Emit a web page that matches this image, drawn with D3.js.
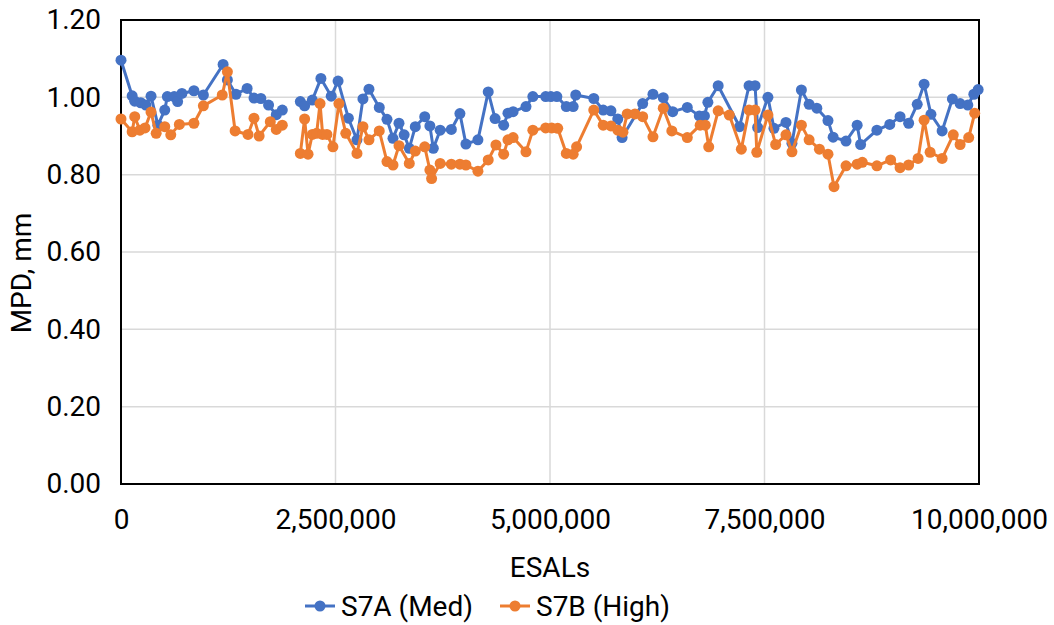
<!DOCTYPE html>
<html><head><meta charset="utf-8">
<script src="https://cdn.jsdelivr.net/npm/d3@7"></script>
<style>
html,body{margin:0;padding:0;background:#fff;}
svg{display:block;font-family:Roboto, "Open Sans", sans-serif;}
</style></head>
<body><svg id="chart" width="1054" height="625"></svg>
<script>
// ---- data (null marks the gap in measurements) ----
const seriesNames = ["S7A (Med)", "S7B (High)"];
const seriesColors = ["#4472C4", "#ED7D31"];
const yTickValues = [0, 0.2, 0.4, 0.6, 0.8, 1.0, 1.2];
const xTickValues = [0, 2500000, 5000000, 7500000, 10000000];

const esalsA = [0,130000,160000,230000,290000,350000,430000,510000,540000,620000,660000,710000,850000,960000,1190000,1240000,1340000,1470000,1550000,1630000,1720000,1810000,1880000,
2000000,
2090000,2140000,2230000,2330000,2450000,2530000,2650000,2750000,2820000,2890000,3010000,3100000,3170000,3240000,3300000,3360000,3430000,3540000,3600000,3640000,3720000,3850000,3950000,4020000,4160000,4280000,4360000,4460000,4510000,4570000,4720000,4800000,4950000,5010000,5080000,5190000,5270000,5300000,5510000,5620000,5710000,5790000,5840000,6080000,6200000,6320000,6430000,6600000,6740000,6800000,6840000,6960000,7210000,7320000,7390000,7420000,7540000,7610000,7750000,7820000,7930000,8020000,8110000,8240000,8300000,8450000,8580000,8620000,8810000,8960000,9080000,9180000,9280000,9360000,9440000,9570000,9690000,9780000,9870000,9940000,9990000];
const mpdA = [1.096,1.004,0.990,0.986,0.980,1.003,0.928,0.967,1.002,1.002,0.989,1.010,1.017,1.006,1.085,1.045,1.008,1.023,0.998,0.997,0.980,0.955,0.967,
null,
0.989,0.978,0.993,1.049,1.003,1.042,0.946,0.890,0.996,1.021,0.974,0.943,0.894,0.933,0.903,0.868,0.924,0.950,0.926,0.868,0.915,0.917,0.958,0.879,0.890,1.014,0.945,0.928,0.959,0.963,0.976,1.002,1.002,1.002,1.002,0.976,0.976,1.006,0.997,0.967,0.965,0.944,0.896,0.984,1.008,0.999,0.963,0.974,0.952,0.952,0.987,1.030,0.924,1.030,1.030,0.922,1.000,0.920,0.935,0.881,1.019,0.982,0.972,0.940,0.897,0.887,0.928,0.878,0.915,0.930,0.950,0.933,0.982,1.034,0.956,0.913,0.996,0.984,0.980,1.008,1.020];

const esalsB = [0,130000,160000,220000,280000,350000,410000,510000,580000,680000,850000,960000,1180000,1240000,1330000,1480000,1550000,1610000,1740000,1810000,1880000,
2000000,
2090000,2140000,2180000,2230000,2280000,2320000,2350000,2400000,2470000,2540000,2620000,2750000,2820000,2890000,3010000,3100000,3170000,3240000,3360000,3430000,3540000,3600000,3620000,3720000,3850000,3950000,4020000,4160000,4280000,4370000,4460000,4510000,4570000,4720000,4800000,4950000,5020000,5090000,5190000,5270000,5310000,5510000,5620000,5710000,5790000,5850000,5900000,5990000,6080000,6200000,6320000,6420000,6600000,6750000,6810000,6850000,6960000,7090000,7230000,7320000,7390000,7410000,7540000,7630000,7750000,7820000,7930000,8020000,8140000,8240000,8310000,8450000,8580000,8640000,8810000,8970000,9080000,9180000,9290000,9360000,9430000,9570000,9700000,9780000,9880000,9950000];
const mpdB = [0.944,0.911,0.950,0.915,0.921,0.962,0.907,0.924,0.903,0.930,0.933,0.978,1.006,1.066,0.913,0.904,0.946,0.900,0.937,0.917,0.928,
null,
0.855,0.944,0.853,0.904,0.907,0.984,0.904,0.904,0.872,0.984,0.907,0.855,0.924,0.890,0.913,0.834,0.825,0.875,0.829,0.861,0.872,0.812,0.790,0.829,0.827,0.827,0.825,0.809,0.838,0.877,0.853,0.890,0.896,0.859,0.915,0.921,0.921,0.920,0.855,0.853,0.872,0.967,0.928,0.926,0.915,0.910,0.957,0.957,0.950,0.898,0.972,0.913,0.896,0.928,0.928,0.872,0.965,0.954,0.866,0.967,0.967,0.858,0.954,0.878,0.903,0.859,0.928,0.890,0.866,0.853,0.769,0.823,0.827,0.832,0.823,0.838,0.818,0.825,0.842,0.941,0.858,0.842,0.903,0.878,0.896,0.959];

const series = [
  {name: seriesNames[0], color: seriesColors[0], data: esalsA.map((x,i)=>({x, y: mpdA[i]}))},
  {name: seriesNames[1], color: seriesColors[1], data: esalsB.map((x,i)=>({x, y: mpdB[i]}))}
];

// ---- layout ----
const svg = d3.select("#chart");
const L = 121, R = 979, T = 20, B = 484;
const FS = 28;

const x = d3.scaleLinear().domain([0, 10000000]).range([L, R]);
const y = d3.scaleLinear().domain([0, 1.2]).range([B, T]);

// gridlines
svg.append("g").selectAll("line").data(yTickValues.filter(v=>v>0&&v<1.2)).join("line")
  .attr("x1", L).attr("x2", R).attr("y1", d=>y(d)).attr("y2", d=>y(d))
  .attr("stroke", "#d9d9d9").attr("stroke-width", 1.5);
svg.append("g").selectAll("line").data(xTickValues.filter(v=>v>0&&v<10000000)).join("line")
  .attr("y1", T).attr("y2", B).attr("x1", d=>x(d)).attr("x2", d=>x(d))
  .attr("stroke", "#d9d9d9").attr("stroke-width", 1.5);

// axes (labels only)
const yAxis = d3.axisLeft(y).tickValues(yTickValues).tickFormat(d3.format(".2f")).tickSize(0).tickPadding(20);
const gy = svg.append("g").attr("transform", `translate(${L},0)`).call(yAxis);
const xAxis = d3.axisBottom(x).tickValues(xTickValues).tickFormat(d3.format(",")).tickSize(0).tickPadding(25);
const gx = svg.append("g").attr("transform", `translate(0,${B})`).call(xAxis);
[gx, gy].forEach(g => {
  g.select(".domain").remove();
  g.selectAll("text").attr("font-size", FS).attr("fill", "#000").attr("font-family", "Roboto");
});

// plot frame
svg.append("rect").attr("x", L).attr("y", T).attr("width", R-L).attr("height", B-T)
  .attr("fill", "none").attr("stroke", "#000").attr("stroke-width", 2);

// series
const line = d3.line().defined(d => d.y != null).x(d => x(d.x)).y(d => y(d.y));
series.forEach(s => {
  const g = svg.append("g");
  g.append("path").datum(s.data).attr("d", line)
    .attr("fill", "none").attr("stroke", s.color).attr("stroke-width", 3).attr("stroke-linejoin", "round");
  g.selectAll("circle").data(s.data.filter(d => d.y != null)).join("circle")
    .attr("cx", d => x(d.x)).attr("cy", d => y(d.y)).attr("r", 5.5).attr("fill", s.color);
});

// axis titles
svg.append("text").attr("x", (L+R)/2).attr("y", 577).attr("text-anchor", "middle")
  .attr("font-size", FS).text("ESALs");
svg.append("text").attr("transform", "translate(31,273) rotate(-90)").attr("text-anchor", "middle")
  .attr("font-size", FS).text("MPD, mm");

// legend
const legendX = [305, 500];
series.forEach((s, i) => {
  const g = svg.append("g").attr("transform", `translate(${legendX[i]},606)`);
  g.append("line").attr("x1", 0).attr("x2", 30).attr("stroke", s.color).attr("stroke-width", 3);
  g.append("circle").attr("cx", 15).attr("r", 5.5).attr("fill", s.color);
  g.append("text").attr("x", 36).attr("dy", "0.35em").attr("font-size", FS).text(s.name);
});
</script>
</body></html>
